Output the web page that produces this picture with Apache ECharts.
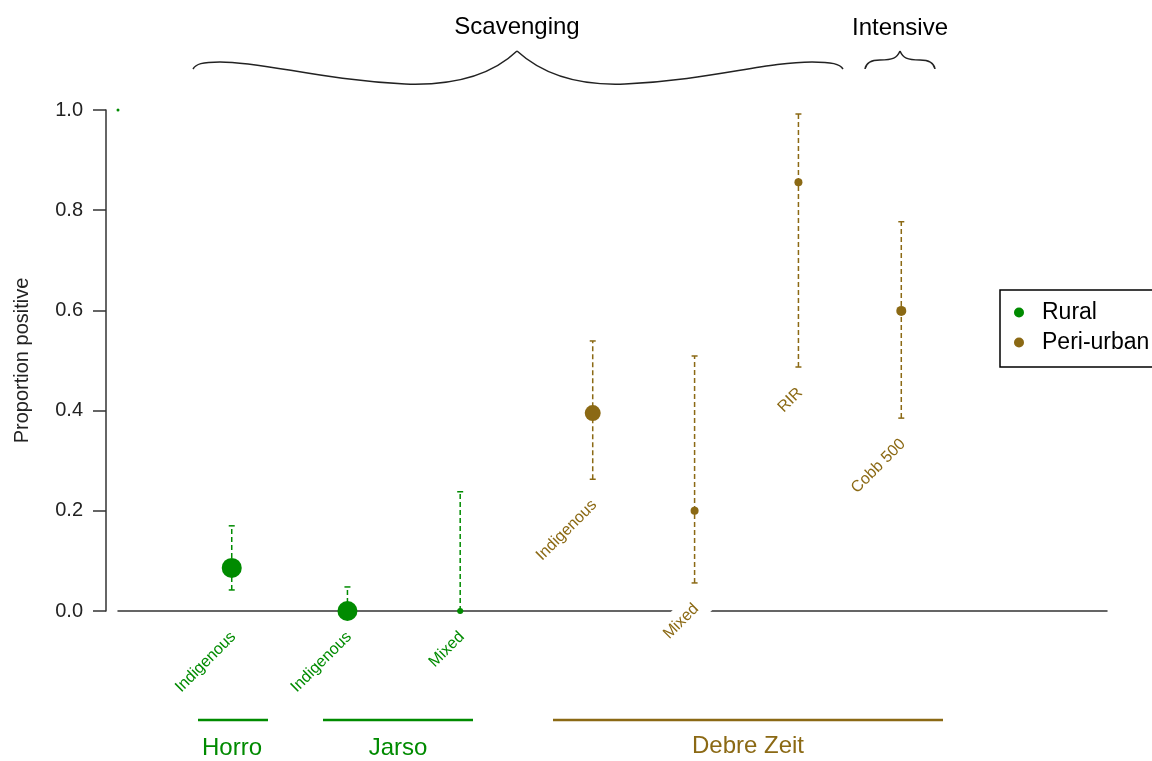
<!DOCTYPE html>
<html><head><meta charset="utf-8">
<script src="https://cdn.jsdelivr.net/npm/echarts@6/dist/echarts.min.js"></script>
<style>html,body{margin:0;padding:0;background:#fff}#c{width:1152px;height:761px}</style>
</head><body><div id="c"></div>
<script>
// ---------- data ----------
const breeds     = ['Indigenous','Indigenous','Mixed','Indigenous','Mixed','RIR','Cobb 500'];
const locations  = ['Horro','Jarso','Jarso','Debre Zeit','Debre Zeit','Debre Zeit','Debre Zeit'];
const setting    = ['Rural','Rural','Rural','Peri-urban','Peri-urban','Peri-urban','Peri-urban'];
const xPos       = [1.15, 2.32, 3.46, 4.80, 5.83, 6.88, 7.92];
const proportion = [0.086, 0, 0, 0.395, 0.200, 0.856, 0.599];
const lowerCI    = [0.042, 0, 0, 0.263, 0.056, 0.487, 0.385];
const upperCI    = [0.170, 0.048, 0.238, 0.539, 0.509, 0.992, 0.777];
const yTicks     = [0, 0.2, 0.4, 0.6, 0.8, 1.0];
const strayPoint = [[0, 1.0]];
const systems    = ['Scavenging', 'Intensive'];
const groupNames = ['Horro', 'Jarso', 'Debre Zeit'];

// ---------- style ----------
const GREEN = '#008B00', BROWN = '#8B6914';
const FONT = '"Liberation Sans", Arial, sans-serif';
const markerSize = [20, 20, 6, 16, 8, 8, 10];
const colorOf = s => s === 'Rural' ? GREEN : BROWN;

const chart = echarts.init(document.getElementById('c'), null, {renderer: 'canvas'});

function pointsFor(name) {
  const out = [];
  for (let i = 0; i < xPos.length; i++) {
    if (setting[i] === name) out.push({value: [xPos[i], proportion[i]], symbolSize: markerSize[i]});
  }
  return out;
}
const ciData = xPos.map((x, i) => [x, lowerCI[i], upperCI[i], i]);
const labelData = xPos.map((x, i) => [x, setting[i] === 'Rural' ? 0 : lowerCI[i], i]);

// brace drawn as chain of cubic segments
function brace(start, segs) {
  const els = [];
  let px = start[0], py = start[1];
  segs.forEach(s => {
    els.push({type: 'bezierCurve',
      shape: {x1: px, y1: py, cpx1: s[0], cpy1: s[1], cpx2: s[2], cpy2: s[3], x2: s[4], y2: s[5]},
      style: {fill: null, stroke: '#222', lineWidth: 1.5}});
    px = s[4]; py = s[5];
  });
  return els;
}
const braceEls = [].concat(
  brace([193, 69], [
    [196, 64, 202, 62, 220, 62],
    [265, 62, 320, 80, 405, 84],
    [460, 86, 495, 72, 517, 51],
    [540, 72, 575, 86, 625, 84],
    [710, 80, 765, 62, 812, 62],
    [832, 62, 840, 64, 843, 69]
  ]),
  brace([865, 69], [
    [866, 63, 870, 60, 880, 60],
    [893, 60, 897, 58, 900, 51],
    [903, 58, 907, 60, 920, 60],
    [930, 60, 934, 63, 935, 69]
  ])
);

const bigText = (x, y, t, c) => ({type: 'text', x: x, y: y,
  style: {text: t, font: '24px ' + FONT, fill: c, align: 'center', verticalAlign: 'middle'}});

const option = {
  animation: false,
  backgroundColor: '#fff',
  grid: {left: 118, right: 45, top: 110, bottom: 150, containLabel: false, outerBoundsMode: 'none'},
  xAxis: {
    type: 'value', min: 0, max: 10,
    axisLine: {show: true, lineStyle: {color: '#333', width: 1.5}},
    axisTick: {show: false}, axisLabel: {show: false}, splitLine: {show: false}
  },
  yAxis: {
    type: 'value', min: yTicks[0], max: yTicks[yTicks.length - 1], interval: yTicks[1] - yTicks[0],
    offset: 12,
    axisLine: {show: true, onZero: false, lineStyle: {color: '#333', width: 1.5}},
    axisTick: {show: true, length: 13, lineStyle: {color: '#333', width: 1.5}},
    axisLabel: {formatter: v => v.toFixed(1), fontSize: 20, color: '#222', fontFamily: FONT, margin: 23},
    splitLine: {show: false},
    name: 'Proportion positive', nameLocation: 'middle', nameGap: 74,
    nameTextStyle: {fontSize: 20, color: '#222', fontFamily: FONT}
  },
  legend: {
    data: ['Rural', 'Peri-urban'], orient: 'vertical', left: 1000, top: 290,
    borderColor: '#000', borderWidth: 1.5, padding: [11, 40, 13, 14],
    itemWidth: 36, itemHeight: 10, itemGap: 7, icon: 'circle',
    textStyle: {fontSize: 23, color: '#000', fontFamily: FONT}
  },
  series: [
    {
      type: 'custom', name: 'labels', z: 2, silent: true,
      renderItem: function (params, api) {
        const i = api.value(2);
        const p = api.coord([api.value(0), api.value(1)]);
        return {
          type: 'text', x: p[0] + 8, y: p[1] + 17, rotation: Math.PI / 4,
          style: {text: breeds[i], fill: colorOf(setting[i]), font: '16px ' + FONT,
                  align: 'right', verticalAlign: 'middle', backgroundColor: '#fff', padding: [6, 9]}
        };
      },
      data: labelData
    },
    {
      type: 'custom', name: 'ci', z: 3, silent: true,
      renderItem: function (params, api) {
        const i = api.value(3);
        const c = colorOf(setting[i]);
        const pLo = api.coord([api.value(0), api.value(1)]);
        const pHi = api.coord([api.value(0), api.value(2)]);
        const cw = 3;
        return {type: 'group', children: [
          {type: 'line', shape: {x1: pLo[0], y1: pLo[1], x2: pHi[0], y2: pHi[1]},
           style: {stroke: c, lineWidth: 1.5, lineDash: [5, 3]}},
          {type: 'line', shape: {x1: pHi[0] - cw, y1: pHi[1], x2: pHi[0] + cw, y2: pHi[1]},
           style: {stroke: c, lineWidth: 1.5}},
          {type: 'line', shape: {x1: pLo[0] - cw, y1: pLo[1], x2: pLo[0] + cw, y2: pLo[1]},
           style: {stroke: c, lineWidth: 1.5}}
        ]};
      },
      data: ciData
    },
    {type: 'scatter', name: 'Rural', z: 4, symbol: 'circle', itemStyle: {color: GREEN, opacity: 1}, data: pointsFor('Rural')},
    {type: 'scatter', name: 'Peri-urban', z: 4, symbol: 'circle', itemStyle: {color: BROWN, opacity: 1}, data: pointsFor('Peri-urban')},
    {type: 'scatter', name: 'stray', z: 4, symbol: 'circle', symbolSize: 3, itemStyle: {color: GREEN, opacity: 1}, data: strayPoint}
  ],
  graphic: braceEls.concat([
    bigText(517, 27, systems[0], '#000'),
    bigText(900, 28, systems[1], '#000'),
    {type: 'line', shape: {x1: 198, y1: 720, x2: 268, y2: 720}, style: {stroke: GREEN, lineWidth: 2.5}},
    {type: 'line', shape: {x1: 323, y1: 720, x2: 473, y2: 720}, style: {stroke: GREEN, lineWidth: 2.5}},
    {type: 'line', shape: {x1: 553, y1: 720, x2: 943, y2: 720}, style: {stroke: BROWN, lineWidth: 2.5}},
    bigText(232, 748, groupNames[0], GREEN),
    bigText(398, 748, groupNames[1], GREEN),
    bigText(748, 746, groupNames[2], BROWN)
  ])
};
chart.setOption(option);
</script></body></html>
